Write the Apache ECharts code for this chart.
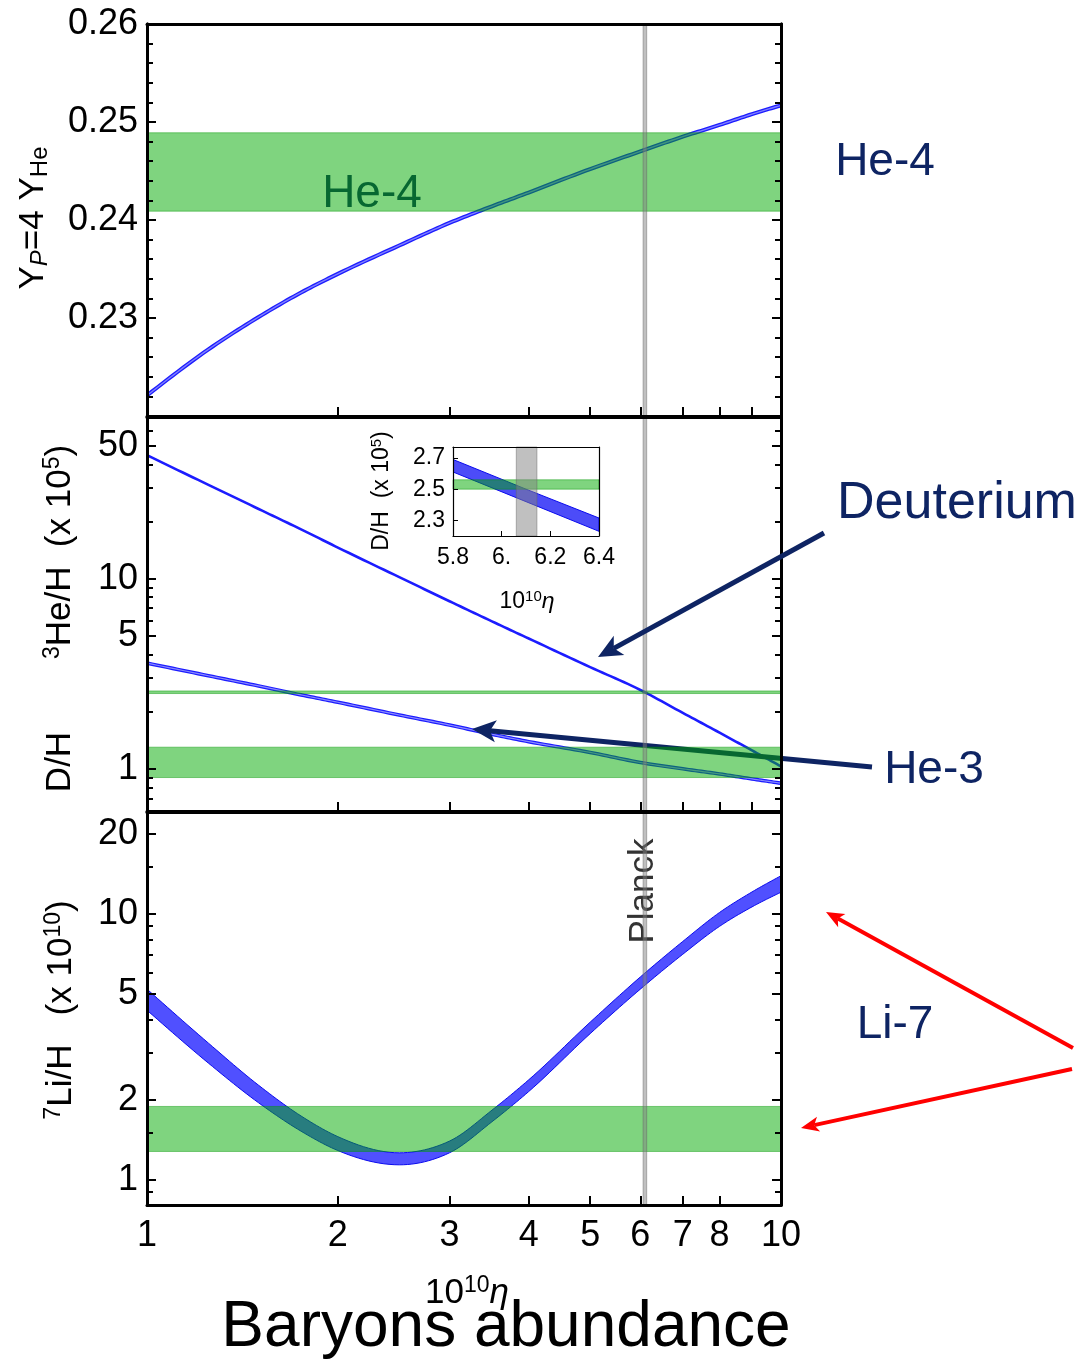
<!DOCTYPE html>
<html><head><meta charset="utf-8">
<script src="https://cdn.jsdelivr.net/npm/echarts@6/dist/echarts.min.js"></script>
<style>html,body{margin:0;padding:0;background:#fff}#c{width:1083px;height:1364px}</style>
</head><body><div id="c"></div>
<script>
// ---------------- data ----------------
const eta  = [1, 1.25, 1.5, 1.75, 2, 2.5, 3, 3.5, 4, 5, 6, 7, 8, 9, 10];
const he4  = [0.2221, 0.2268, 0.2301, 0.2326, 0.2345, 0.2374, 0.2397, 0.2414, 0.2428, 0.2452, 0.2470, 0.2485, 0.2497, 0.2508, 0.2517];
const dH   = [44.7, 31.2, 23.3, 18.2, 14.6, 10.2, 7.62, 5.97, 4.85, 3.43, 2.60, 1.97, 1.55, 1.25, 1.03];
const he3  = [3.60, 3.09, 2.73, 2.45, 2.24, 1.92, 1.70, 1.52, 1.39, 1.22, 1.08, 1.00, 0.94, 0.885, 0.84];
const li7Lo = [4.35, 2.75, 1.95, 1.525, 1.29, 1.14, 1.265, 1.655, 2.15, 3.55, 5.22, 7.06, 8.99, 10.64, 12.08];
const li7Hi = [5.22, 3.27, 2.27, 1.74, 1.455, 1.265, 1.40, 1.83, 2.38, 3.92, 5.80, 7.89, 10.14, 12.11, 13.93];

const he4Obs = [0.2409, 0.2489];
const dHObs  = [2.49, 2.57];
const he3Obs = [0.90, 1.30];
const li7Obs = [1.28, 1.89];
const planck = [6.06, 6.14];

const insetEta = [5.8, 6.1, 6.4];
const insetLo  = [2.61, 2.42, 2.23];
const insetHi  = [2.69, 2.50, 2.315];
const insetDObs = [2.50, 2.56];
const insetPlanck = [6.06, 6.145];

// ---------------- tick values / labels ----------------
const xLabelVals = [1, 2, 3, 4, 5, 6, 7, 8, 9, 10];
const xTickVals  = [2, 3, 4, 5, 6, 7, 8, 9];
const p1LabelVals = [0.23, 0.24, 0.25, 0.26];
const p1MajorTicks = [0.22, 0.23, 0.24, 0.25, 0.26];
const p1MinorTicks = [0.222, 0.224, 0.226, 0.228, 0.232, 0.234, 0.236, 0.238, 0.242, 0.244, 0.246, 0.248, 0.252, 0.254, 0.256, 0.258];
const p2LabelVals = [1, 5, 10, 50];
const p2MinorTicks = [0.7, 0.8, 0.9, 2, 3, 4, 6, 7, 8, 9, 20, 30, 40, 60, 70];
const p3LabelVals = [1, 2, 5, 10, 20];
const p3MinorTicks = [0.9, 1.5, 3, 4, 6, 7, 8, 9, 15];
const insetXVals = [5.8, 6.0, 6.2, 6.4];
const insetXLabels = ['5.8', '6.', '6.2', '6.4'];
const insetXTicks = [6.0, 6.2];
const insetYVals = [2.3, 2.5, 2.7];

// ---------------- styling ----------------
const FONT = '"Liberation Sans", Arial, Helvetica, sans-serif';
const NAVY = '#0e2463';
const GREEN = 'rgba(0,170,0,0.5)';
const GREEN_EDGE = 'rgba(0,150,0,0.45)';
const GRAY = 'rgba(130,130,130,0.5)';
const GRAY_EDGE = 'rgba(100,100,100,0.45)';

const grids = [
  {left: 147, right: 302, top: 24, height: 392},
  {left: 147, right: 302, top: 417, height: 394},
  {left: 147, right: 302, top: 812, height: 393},
  {left: 453, top: 447, width: 146, height: 89}
];
grids.forEach(g => { g.containLabel = false; g.outerBoundsMode = 'none'; });

const lineBlack = w => ({show: true, onZero: false, lineStyle: {color: '#000', width: w}});
const intFmt = v => String(Math.round(v));

function xMain(g, showLabels) {
  return [{
    type: 'log', logBase: 10, gridIndex: g, min: 1, max: 10, position: 'bottom', z: 10,
    axisLine: lineBlack(3),
    axisTick: {show: true, inside: true, length: 9, customValues: xTickVals, lineStyle: {color: '#000', width: 2}},
    axisLabel: {show: showLabels, customValues: xLabelVals, margin: 13, fontSize: 36, color: '#000', fontFamily: FONT,
      formatter: intFmt, hideOverlap: false, showMinLabel: true, showMaxLabel: true},
    splitLine: {show: false}
  }, {
    type: 'log', logBase: 10, gridIndex: g, min: 1, max: 10, position: 'top', z: 10,
    axisLine: lineBlack(3), axisTick: {show: false}, axisLabel: {show: false}, splitLine: {show: false}
  }];
}

function yMain(g, type, min, max, labelVals, major, minor, fmt) {
  const base = {type, gridIndex: g, min, max, z: 10, splitLine: {show: false}, axisLine: lineBlack(3)};
  if (type === 'log') base.logBase = 10;
  const tk = (vals, len) => ({show: true, inside: true, length: len, customValues: vals, lineStyle: {color: '#000', width: 2}});
  return [
    Object.assign({}, base, {position: 'left', axisTick: tk(major, 9),
      axisLabel: {show: true, customValues: labelVals, formatter: fmt, fontSize: 36, margin: 9, color: '#000', fontFamily: FONT,
        hideOverlap: false, showMinLabel: true, showMaxLabel: true}}),
    Object.assign({}, base, {position: 'left', axisTick: tk(minor, 6), axisLabel: {show: false}}),
    Object.assign({}, base, {position: 'right', axisTick: tk(major, 9), axisLabel: {show: false}}),
    Object.assign({}, base, {position: 'right', axisTick: tk(minor, 6), axisLabel: {show: false}})
  ];
}

const xAxes = [].concat(
  xMain(0, false), xMain(1, false), xMain(2, true),
  [{
    type: 'value', gridIndex: 3, min: 5.8, max: 6.4, position: 'bottom', z: 10,
    axisLine: lineBlack(1.2),
    axisTick: {show: true, inside: true, length: 5, customValues: insetXTicks, lineStyle: {color: '#000', width: 1}},
    axisLabel: {show: true, customValues: insetXVals, margin: 10, fontSize: 23, color: '#000', fontFamily: FONT,
      showMinLabel: true, showMaxLabel: true,
      formatter: v => { let k = 0; insetXVals.forEach((t, i) => { if (Math.abs(t - v) < Math.abs(insetXVals[k] - v)) k = i; }); return insetXLabels[k]; }},
    splitLine: {show: false}
  }, {
    type: 'value', gridIndex: 3, min: 5.8, max: 6.4, position: 'top', z: 10,
    axisLine: lineBlack(1.2), axisTick: {show: false}, axisLabel: {show: false}, splitLine: {show: false}
  }]
);

const yAxes = [].concat(
  yMain(0, 'value', 0.22, 0.26, p1LabelVals, p1MajorTicks, p1MinorTicks, v => v.toFixed(2)),
  yMain(1, 'log', 0.6, 71, p2LabelVals, p2LabelVals, p2MinorTicks, intFmt),
  yMain(2, 'log', 0.805, 24.2, p3LabelVals, p3LabelVals, p3MinorTicks, intFmt),
  [{
    type: 'value', gridIndex: 3, min: 2.2, max: 2.77, position: 'left', z: 10,
    axisLine: lineBlack(1.2),
    axisTick: {show: true, inside: true, length: 5, customValues: insetYVals, lineStyle: {color: '#000', width: 1}},
    axisLabel: {show: true, customValues: insetYVals, margin: 8, fontSize: 23, color: '#000', fontFamily: FONT, formatter: v => v.toFixed(1)},
    splitLine: {show: false}
  }, {
    type: 'value', gridIndex: 3, min: 2.2, max: 2.77, position: 'right', z: 10,
    axisLine: lineBlack(1.2), axisTick: {show: false}, axisLabel: {show: false}, splitLine: {show: false}
  }]
);

// ---------------- rendering helpers ----------------
// monotone cubic (in pixel space) rendering of a polyline, returned as a dense outline
function monoOutline(pts, steps) {
  const n = pts.length, h = [], s = [], m = [];
  for (let i = 0; i < n - 1; i++) { h[i] = pts[i + 1][0] - pts[i][0]; s[i] = (pts[i + 1][1] - pts[i][1]) / h[i]; }
  for (let i = 1; i < n - 1; i++) {
    const p = (s[i - 1] * h[i] + s[i] * h[i - 1]) / (h[i - 1] + h[i]);
    m[i] = (Math.sign(s[i - 1]) + Math.sign(s[i])) * Math.min(Math.abs(s[i - 1]), Math.abs(s[i]), 0.5 * Math.abs(p)) || 0;
  }
  m[0] = n > 2 ? (3 * s[0] - m[1]) / 2 : s[0];
  m[n - 1] = n > 2 ? (3 * s[n - 2] - m[n - 2]) / 2 : s[n - 2];
  const out = [pts[0]];
  for (let i = 0; i < n - 1; i++) {
    const p0 = pts[i], p1 = pts[i + 1], d = h[i] / 3;
    const c1 = [p0[0] + d, p0[1] + m[i] * d], c2 = [p1[0] - d, p1[1] - m[i + 1] * d];
    for (let k = 1; k <= steps; k++) {
      const t = k / steps, u = 1 - t;
      out.push([
        u * u * u * p0[0] + 3 * u * u * t * c1[0] + 3 * u * t * t * c2[0] + t * t * t * p1[0],
        u * u * u * p0[1] + 3 * u * u * t * c1[1] + 3 * u * t * t * c2[1] + t * t * t * p1[1]
      ]);
    }
  }
  return out;
}
const clipOf = cs => ({type: 'rect', shape: {x: cs.x, y: cs.y, width: cs.width, height: cs.height}});

function curveSeries(xi, yi, ys, color, width, z) {
  return {type: 'custom', xAxisIndex: xi, yAxisIndex: yi, z, silent: true,
    data: eta.map((e, i) => [e, ys[i]]), encode: {x: 0, y: 1},
    renderItem: (params, api) => {
      if (params.dataIndex !== 0) return;
      const pts = monoOutline(eta.map((e, i) => api.coord([e, ys[i]])), 12);
      return {type: 'polyline', shape: {points: pts},
        style: {fill: null, stroke: color, lineWidth: width, lineJoin: 'round'},
        clipPath: clipOf(params.coordSys)};
    }};
}
function hband(xi, yi, range, xRef, fill, stroke, z) {
  return {type: 'custom', xAxisIndex: xi, yAxisIndex: yi, z, silent: true,
    data: [[xRef, range[0], range[1]]], encode: {x: 0, y: [1, 2]},
    renderItem: (params, api) => {
      const cs = params.coordSys;
      const a = api.coord([api.value(0), api.value(1)]);
      const b = api.coord([api.value(0), api.value(2)]);
      return {type: 'rect', shape: {x: cs.x, y: b[1], width: cs.width, height: a[1] - b[1]},
        style: {fill, stroke, lineWidth: 1}};
    }};
}
function vband(xi, yi, range, yRef, fill, stroke, z) {
  return {type: 'custom', xAxisIndex: xi, yAxisIndex: yi, z, silent: true,
    data: [[range[0], range[1], yRef]], encode: {x: [0, 1], y: 2},
    renderItem: (params, api) => {
      const cs = params.coordSys;
      const a = api.coord([api.value(0), api.value(2)]);
      const b = api.coord([api.value(1), api.value(2)]);
      return {type: 'rect', shape: {x: a[0], y: cs.y, width: b[0] - a[0], height: cs.height},
        style: {fill, stroke, lineWidth: 1}};
    }};
}
function polyband(xi, yi, xs, lo, hi, fill, stroke, curved, z) {
  return {type: 'custom', xAxisIndex: xi, yAxisIndex: yi, z, silent: true,
    data: xs.map((x, i) => [x, lo[i], hi[i]]), encode: {x: 0, y: [1, 2]},
    renderItem: (params, api) => {
      if (params.dataIndex !== 0) return;
      let up = xs.map((x, i) => api.coord([x, hi[i]]));
      let dn = xs.map((x, i) => api.coord([x, lo[i]]));
      if (curved) { up = monoOutline(up, 12); dn = monoOutline(dn, 12); }
      return {type: 'polygon', shape: {points: up.concat(dn.reverse())},
        style: {fill, stroke, lineWidth: 1},
        clipPath: clipOf(params.coordSys)};
    }};
}

const series = [
  // panel 1 : He-4
  curveSeries(0, 0, he4, '#1c1cff', 4, 2),
  curveSeries(0, 0, he4, '#8080ff', 1.4, 2),
  hband(0, 0, he4Obs, 1, GREEN, GREEN_EDGE, 4),
  vband(0, 0, planck, 0.24, GRAY, GRAY_EDGE, 5),
  // panel 2 : D and He-3
  curveSeries(2, 4, dH, '#1c1cff', 2.6, 2),
  curveSeries(2, 4, he3, '#1c1cff', 3.6, 2),
  curveSeries(2, 4, he3, '#8a8aff', 1.2, 2),
  hband(2, 4, dHObs, 1, GREEN, GREEN_EDGE, 4),
  hband(2, 4, he3Obs, 1, GREEN, GREEN_EDGE, 4),
  vband(2, 4, planck, 1, GRAY, GRAY_EDGE, 5),
  // panel 3 : Li-7
  polyband(4, 8, eta, li7Lo, li7Hi, '#5050ff', '#0a0aee', true, 2),
  hband(4, 8, li7Obs, 1, GREEN, GREEN_EDGE, 4),
  vband(4, 8, planck, 1, GRAY, GRAY_EDGE, 5),
  // inset
  polyband(6, 12, insetEta, insetLo, insetHi, '#4c4cf8', '#0a0aee', false, 2),
  hband(6, 12, insetDObs, 5.8, GREEN, GREEN_EDGE, 4),
  vband(6, 12, insetPlanck, 2.5, GRAY, GRAY_EDGE, 5)
];

// ---------------- annotations ----------------
function txt(x, y, text, size, color, opts) {
  return Object.assign({type: 'text', x, y, z: 20, silent: true,
    style: {text, fontSize: size, fontFamily: FONT, fill: color, align: 'center', verticalAlign: 'middle'}}, opts || {});
}
function richTxt(x, y, text, rich, rot, z) {
  return {type: 'text', x, y, rotation: rot || 0, z: z || 20, silent: true,
    style: {text, rich, align: 'center', verticalAlign: 'middle', fontFamily: FONT}};
}
function arrow(x1, y1, x2, y2, color, w, head, hw, z) {
  const ang = Math.atan2(y2 - y1, x2 - x1);
  const bx = x2 - head * Math.cos(ang), by = y2 - head * Math.sin(ang);
  const nx = x2 - head * 0.75 * Math.cos(ang), ny = y2 - head * 0.75 * Math.sin(ang);
  const px = -Math.sin(ang) * hw / 2, py = Math.cos(ang) * hw / 2;
  return [
    {type: 'line', z, silent: true, shape: {x1, y1, x2: nx, y2: ny}, style: {stroke: color, lineWidth: w}},
    {type: 'polygon', z, silent: true, shape: {points: [[x2, y2], [bx + px, by + py], [nx, ny], [bx - px, by - py]]}, style: {fill: color}}
  ];
}
const R = (size, extra) => Object.assign({fontSize: size, fontFamily: FONT, fill: '#000'}, extra || {});
const big = 35;
const richAxis = {
  m: R(big, {lineHeight: 38, verticalAlign: 'middle'}),
  mi: R(big, {lineHeight: 38, verticalAlign: 'middle', fontStyle: 'italic'}),
  s: R(24, {lineHeight: 18, verticalAlign: 'bottom'}),
  si: R(24, {lineHeight: 18, verticalAlign: 'bottom', fontStyle: 'italic'}),
  p: R(23, {lineHeight: 18, verticalAlign: 'top'})
};
const richInset = {
  m: R(23, {lineHeight: 26, verticalAlign: 'middle'}),
  mi: R(23, {lineHeight: 26, verticalAlign: 'middle', fontStyle: 'italic'}),
  p: R(15, {lineHeight: 12, verticalAlign: 'top'})
};

const graphic = [].concat(
  [
    richTxt(33, 218, '{m|Y}{si|P}{m|=4 Y}{s|He}', richAxis, Math.PI / 2),
    richTxt(60, 552, '{p|3}{m|He/H  (x 10}{p|5}{m|)}', richAxis, Math.PI / 2),
    richTxt(60, 762, '{m|D/H}', richAxis, Math.PI / 2),
    richTxt(61, 1010, '{p|7}{m|Li/H   (x 10}{p|10}{m|)}', richAxis, Math.PI / 2),
    richTxt(467, 1293, '{m|10}{p|10}{mi|η}', richAxis, 0),
    txt(506, 1328, 'Baryons abundance', 64, '#000'),
    // inset titles
    richTxt(382, 491, '{m|D/H  (x 10}{p|5}{m|)}', richInset, Math.PI / 2),
    richTxt(527, 602, '{m|10}{p|10}{mi|η}', richInset, 0),
    // labels
    txt(372, 194, 'He-4', 46, NAVY, {z: 3}),
    txt(885, 162, 'He-4', 46, NAVY),
    txt(957, 504, 'Deuterium', 52, NAVY),
    txt(934, 770, 'He-3', 46, NAVY),
    txt(895, 1025, 'Li-7', 46, NAVY),
    Object.assign(txt(643, 891, 'Planck', 35, '#333', {z: 4}), {rotation: Math.PI / 2})
  ],
  arrow(824, 533, 598, 657, NAVY, 5, 24, 22, 20),
  arrow(872, 767, 472, 729, NAVY, 5, 24, 22, 3),
  arrow(1073, 1048, 826, 912, '#ff0000', 4, 18, 15, 20),
  arrow(1072, 1069, 801, 1128, '#ff0000', 4, 18, 15, 20)
);

const chart = echarts.init(document.getElementById('c'), null, {renderer: 'canvas'});
chart.setOption({
  animation: false,
  backgroundColor: '#fff',
  grid: grids,
  xAxis: xAxes,
  yAxis: yAxes,
  series,
  graphic
});
</script>
</body></html>
